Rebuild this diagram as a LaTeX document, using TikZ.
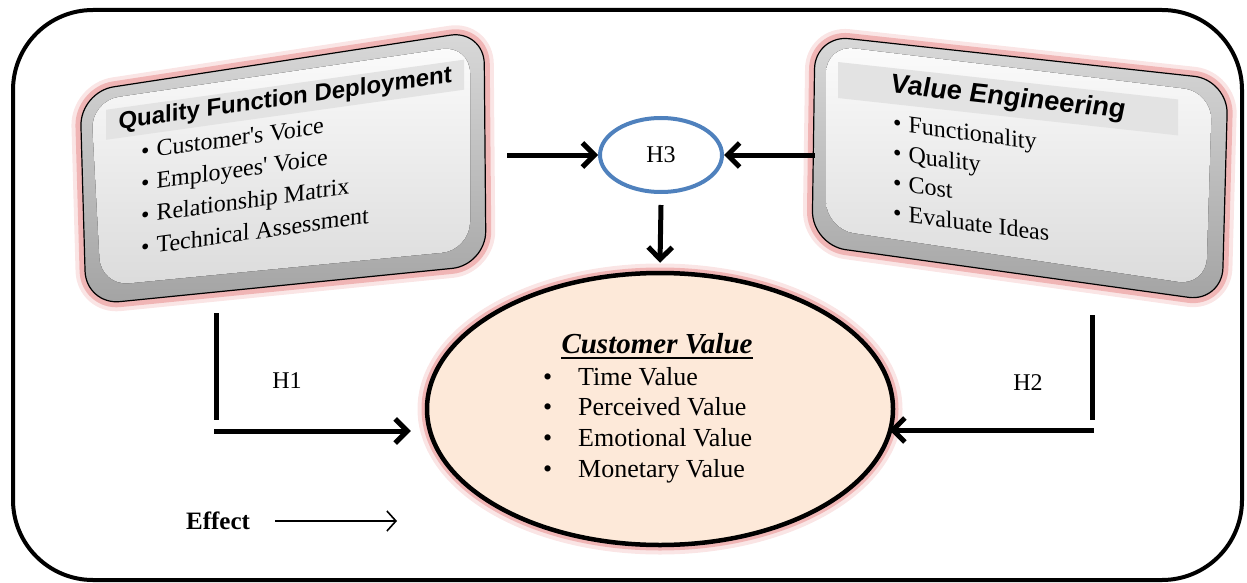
\documentclass[tikz,border=0pt]{standalone}
\usepackage{fontspec}
\setmainfont{Liberation Serif}
\setsansfont{Liberation Sans}
\usetikzlibrary{arrows.meta,shapes.geometric,positioning,calc}
\definecolor{hblue}{RGB}{79,129,189}
\definecolor{peach}{RGB}{253,233,217}
\definecolor{glowred}{RGB}{225,110,110}

\begin{document}
\begin{tikzpicture}[x=1pt,y=1pt,{glow/.style={preaction={draw=glowred,draw opacity=.18,line width=19pt},preaction={draw=glowred,draw opacity=.4,line width=11pt}}},{bevel/.style={draw=black,line width=1.2pt,rounded corners=34pt,top color=gray!30,bottom color=gray!72}},{face/.style={rounded corners=28pt,top color=gray!3,bottom color=gray!28}},{band/.style={fill=gray!22,inner sep=0pt,minimum height=30pt,font=\fontsize{24}{28}\selectfont\sffamily\bfseries}},{bullets/.style={align=left,inner sep=0pt,font=\fontsize{24}{32}\selectfont}},{conn/.style={line width=5pt,-{Straight Barb[length=12pt,width=24pt]}}},{stem/.style={line width=5pt}},{lbl/.style={font=\fontsize{24}{28}\selectfont}}]
	\useasboundingbox (0,0) rectangle (1247,-583);
	%%outer frame
	\draw [line width=4pt,rounded corners=80pt] (13,-10) rectangle (1242,-580);

	%%Quality Function Deployment box
	\draw [glow,bevel] (80,-92) -- (484,-30) -- (486,-265) -- (86,-305) -- cycle;
	\fill [face] (91,-101) -- (470,-45) -- (470,-250) -- (101,-286) -- cycle;
	\node [band,minimum width=358pt,yslant=0.14,anchor=base west] (qfdtitle) at (106,-131) {Quality Function Deployment};
	\node [bullets,yslant=0.14,anchor=north west] (qfdlist) at (141,-143) {\textbullet\hspace{7pt}Customer\textquotesingle s Voice\\ \textbullet\hspace{7pt}Employees\textquotesingle\ Voice\\ \textbullet\hspace{7pt}Relationship Matrix\\ \textbullet\hspace{7pt}Technical Assessment};

	%%Value Engineering box
	\draw [glow,bevel] (815,-35) -- (1228,-80) -- (1222,-302) -- (812,-245) -- cycle;
	\fill [face] (826,-45) -- (1212,-92) -- (1206,-286) -- (826,-229) -- cycle;
	\node [band,font=\fontsize{27}{30}\selectfont\sffamily\bfseries\itshape,minimum width=340pt,minimum height=36pt,yslant=-0.11,anchor=base west] (vetitle) at (838,-87) {Value Engineering};
	\node [bullets,font=\fontsize{24}{30}\selectfont,yslant=-0.13,anchor=north west] (velist) at (893,-114) {\textbullet\hspace{7pt}Functionality\\ \textbullet\hspace{7pt}Quality\\ \textbullet\hspace{7pt}Cost\\ \textbullet\hspace{7pt}Evaluate Ideas};

	%%Customer Value
	\node [ellipse,glow,draw,line width=4.5pt,fill=peach,minimum width=466pt,minimum height=272pt] (cv) at (660,-409) {};
	\node [inner sep=0pt,anchor=base,font=\fontsize{29}{32}\selectfont\bfseries\itshape] (cvtitle) at (657,-353) {Customer Value};
	\draw [line width=2.2pt] ([yshift=-5pt]cvtitle.base west) -- ([yshift=-5pt]cvtitle.base east);
	\node [bullets,font=\fontsize{26}{30.7}\selectfont,anchor=north west] (cvlist) at (543,-367) {\makebox[35pt][l]{\textbullet}Time Value\\ \makebox[35pt][l]{\textbullet}Perceived Value\\ \makebox[35pt][l]{\textbullet}Emotional Value\\ \makebox[35pt][l]{\textbullet}Monetary Value};

	%%H3
	\node [ellipse,draw=hblue,line width=4pt,minimum width=122pt,minimum height=74pt,lbl] (h3) at (661,-155) {H3};
	\coordinate (qfdout) at (507,-155);
	\coordinate (veout) at (815,-155);
	\draw [conn] (qfdout) -- (h3);
	\draw [conn] (veout) -- (h3);
	\draw [conn] ([yshift=-11pt]h3.south) -- ([yshift=8pt]cv.north);

	%%H1 and H2
	\coordinate (h1top) at (216,-313);
	\coordinate (h1foot) at (216,-420);
	\coordinate (h1start) at (214,-431);
	\draw [stem] (h1top) -- (h1foot);
	\draw [conn] (h1start) -- ([xshift=-14pt]h1start -| cv.west);
	\node [lbl] (h1) at (287,-381) {H1};
	\coordinate (h2top) at (1092,-315);
	\coordinate (h2foot) at (1092,-420);
	\coordinate (h2start) at (1094,-430);
	\draw [stem] (h2top) -- (h2foot);
	\draw [conn] (h2start) -- ([xshift=-6pt]h2start -| cv.east);
	\node [lbl] (h2) at (1028,-383) {H2};

	%%legend
	\node [font=\fontsize{25}{28}\selectfont\bfseries] (effect) at (218,-521) {Effect};
	\coordinate (effend) at (397,-521);
	\draw [line width=1.6pt,-{Straight Barb[length=9pt,width=20pt]}] ([xshift=22pt]effect.east) -- (effend);
\end{tikzpicture}
\end{document}
